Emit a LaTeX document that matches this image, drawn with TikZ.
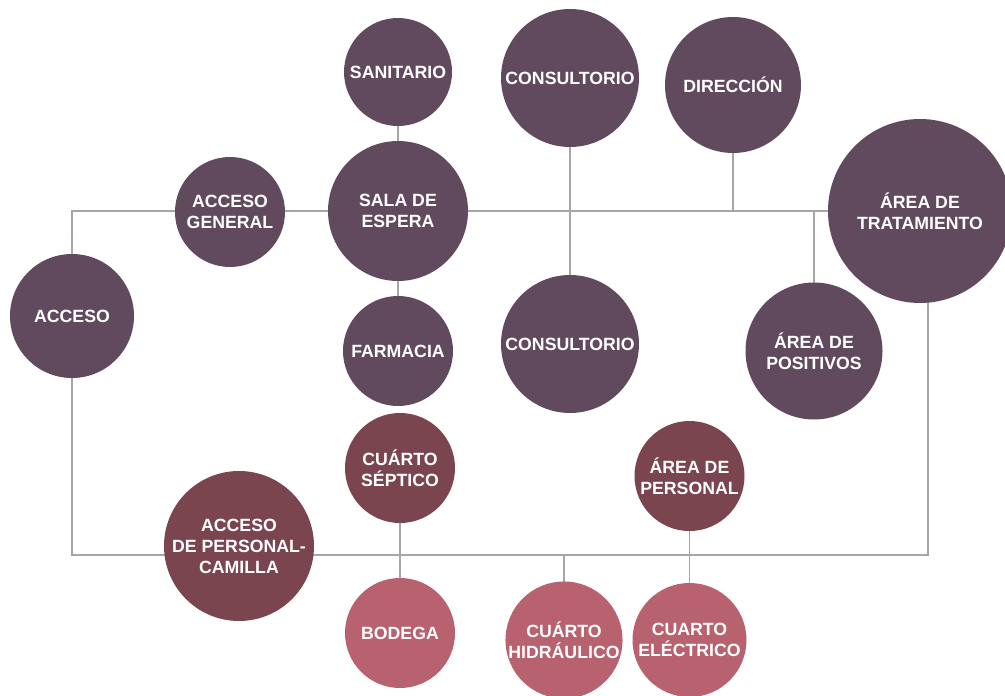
\documentclass[tikz,border=0pt]{standalone}
\usepackage{fontspec}
\setmainfont{Liberation Sans}
\usetikzlibrary{backgrounds}
\definecolor{cdark}{HTML}{624A5E}
\definecolor{cmid}{HTML}{7B4550}
\definecolor{clight}{HTML}{B9626F}
\definecolor{cline}{HTML}{A6A6A6}
\tikzset{
  room/.style={circle, fill=#1, draw=none, inner sep=0pt, text=white,
    align=center, font=\fontsize{17.7}{21}\selectfont\bfseries},
  link/.style={draw=cline, line width=1.4pt}
}
\begin{document}
\begin{tikzpicture}[x=1pt,y=-1pt]
\useasboundingbox (0,0) rectangle (1005,696);
\node[room=cdark, minimum size=108] (sanitario) at (398,72) {SANITARIO};
\node[room=cdark, minimum size=138] (cons1) at (570,78) {CONSULTORIO};
\node[room=cdark, minimum size=136] (direccion) at (733,85) {DIRECCIÓN};
\node[room=cdark, minimum size=184] (tratamiento) at (920,211) {ÁREA DE\\TRATAMIENTO};
\node[room=cdark, minimum size=110] (general) at (230,212) {ACCESO\\GENERAL};
\node[room=cdark, minimum size=140] (sala) at (398,211) {SALA DE\\ESPERA};
\node[room=cdark, minimum size=124] (acceso) at (72,316) {ACCESO};
\node[room=cdark, minimum size=110] (farmacia) at (398,351) {FARMACIA};
\node[room=cdark, minimum size=138] (cons2) at (570,344) {CONSULTORIO};
\node[room=cdark, minimum size=137] (positivos) at (814,351) {ÁREA DE\\POSITIVOS};
\node[room=cmid, minimum size=110] (septico) at (400,468) {CUÁRTO\\SÉPTICO};
\node[room=cmid, minimum size=110] (personal) at (689.5,476) {ÁREA DE\\PERSONAL};
\node[room=cmid, minimum size=150] (camilla) at (239,546) {ACCESO\\DE PERSONAL-\\CAMILLA};
\node[room=clight, minimum size=110] (bodega) at (400,633) {BODEGA};
\node[room=clight, minimum size=116] (hidraulico) at (564,640) {CUÁRTO\\HIDRÁULICO};
\node[room=clight, minimum size=114] (electrico) at (689.5,640) {CUARTO\\ELÉCTRICO};
\coordinate (brc) at (928,555);
\begin{scope}[on background layer]
\draw[link] (acceso.center) |- (tratamiento.center);
\draw[link] (acceso.center) |- (brc) -- (brc |- tratamiento.center);
\draw[link] (sanitario.center) -- (sala.center) -- (farmacia.center);
\draw[link] (cons1.center) -- (cons2.center);
\draw[link] (direccion.center) -- (direccion.center |- sala.center);
\draw[link] (positivos.center) -- (positivos.center |- sala.center);
\draw[link] (septico.center) -- (bodega.center);
\draw[link] (hidraulico.center) -- (hidraulico.center |- brc);
\draw[link] (personal.center) -- (electrico.center);
\end{scope}
\end{tikzpicture}
\end{document}
